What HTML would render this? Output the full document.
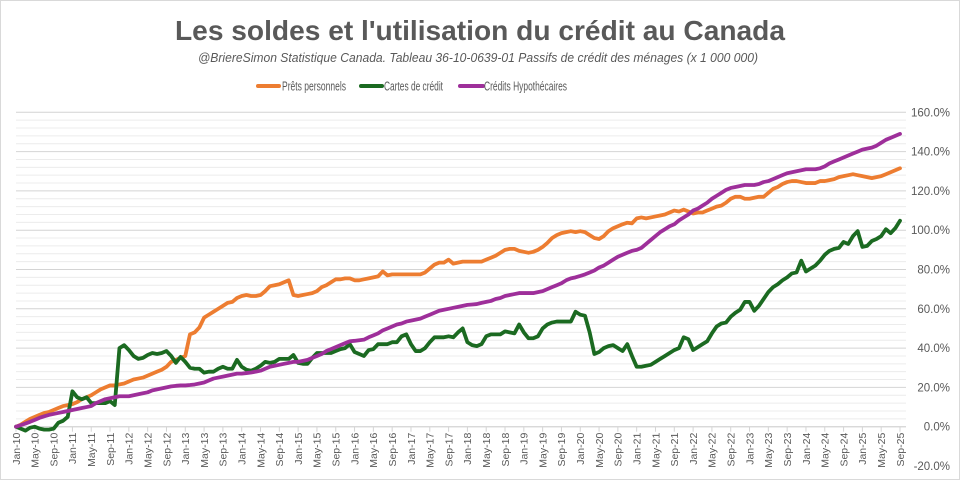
<!DOCTYPE html>
<html><head><meta charset="utf-8"><style>
html,body{margin:0;padding:0;background:#fff;}
svg{display:block;font-family:"Liberation Sans",sans-serif;}
</style></head><body>
<svg id="chart" width="960" height="481" viewBox="0 0 960 481" xmlns="http://www.w3.org/2000/svg">
<rect x="0.5" y="0.5" width="959" height="479" fill="#fff" stroke="#d9d9d9"/>
<text x="480" y="40" text-anchor="middle" font-size="28" font-weight="bold" fill="#595959" textLength="610" lengthAdjust="spacingAndGlyphs">Les soldes et l'utilisation du crédit au Canada</text>
<text x="478" y="62" text-anchor="middle" font-size="12.5" font-style="italic" fill="#595959" textLength="560" lengthAdjust="spacingAndGlyphs">@BriereSimon Statistique Canada. Tableau 36-10-0639-01  Passifs de crédit des ménages  (x 1 000 000)</text>
<g id="legend"></g>
<g id="grid"></g>
<g id="yaxis"></g>
<g id="xaxis"></g>
<g id="series"></g>
</svg>
<script>
const yTicks = [-20,0,20,40,60,80,100,120,140,160];
const monthNames = ["Jan","Feb","Mar","Apr","May","Jun","Jul","Aug","Sep","Oct","Nov","Dec"];
const startYear = 2010;
const personalLoans = [
0,1,2.5,4,5,6,7,7.5,8.5,9.5,10.5,11,
11.5,12.5,14,15,16,17.5,19,20,21,21,21.5,22,
23,24,24.5,25,26,27,28,29,30.5,33,34,35,
36,47,48,50.5,55.5,57,58.5,60,61.5,63,63.5,65.5,
66.5,67,66.5,66.5,67,69,71.5,72,72.5,73.5,74.5,67,
66.5,67,67.5,68,69,71,72,73.5,75,75,75.5,75.5,
74.5,74.5,75,75.5,76,76.5,79,77,77.5,77.5,77.5,77.5,
77.5,77.5,77.5,78.5,80.5,82.5,83.5,83.5,85,83,83.5,84,
84,84,84,84,85,86,87,88.5,90,90.5,90.5,89.5,
89,88.5,89,90,91.5,93.5,96,97.5,98.5,99,99.5,99,
99.5,99,97.5,96,95.5,97,99.5,101,102,103,103.8,103.5,
106,106.5,106,106.5,107,107.5,108,109,110,109.5,110.5,109.5,
108.5,109,109,110,111,112,112.5,114,116,117,117,116,
116,116.5,117,117,119,121,122,123.5,124.5,125,125,124.5,
124,124,124,125,125,125.5,126,127,127.5,128,128.5,128,
127.5,127,126.5,127,127.5,128.5,129.5,130.5,131.5];
const creditCards = [
0,-1,-2,-0.5,0,-1,-1.5,-1.5,-1,2,3,5,
18,15,14,15,12,12,12,12,13,11,40,41.5,
39,36,34.5,35,36.5,37.5,37,37.5,38.5,36,32.5,35.5,
33,30,29.5,29.5,27.5,28,28,29.5,30.5,29.5,29.5,34,
30.5,29,28.5,29.5,31,33,32.5,33,34.5,34.5,34.5,36.5,
32.5,32,32,35,37.5,37.5,37.5,37.5,38.5,39.5,40,42,
38,37,36,39,39.5,42,42,42,43,43,46,47,
42,38.5,38.5,40,43,45.5,45.5,45.5,46,45.5,48,50,
43,41.5,41,42,46,47,47,47,48.5,48,47.5,52,
48,45,45,46,50,52,53,53.5,53.5,53.5,53.5,58.5,
57,56.5,48,37,38,40,41,41.5,40,38.5,42,36,
30.5,30.5,31,31.5,33,34.5,36,37.5,39,40,45.5,44.5,
39,40.5,42,43.5,47.5,51,52.5,53,56,58,59.5,63.5,
63.5,59,61.5,65,68.5,71,72.5,74.5,76,78,78.5,84.5,
79,80.5,82,84.5,87.5,89.5,90.5,91,94,93,97,99.5,
91.5,92,94.5,95.5,97,100.5,98.5,101,104.8];
const mortgages = [
0,0.8,1.6,2.5,3.5,4.5,5.3,6,6.5,7,7.5,8,
8.5,9,9.5,10,10.5,12,13,14,14.5,15,15.5,15.5,
15.5,16,16.5,17,17.5,18.5,19,19.5,20,20.5,20.8,21,
21,21.2,21.5,22,22.5,23.5,24.5,25,25.5,26,26.5,27,
27,27.3,27.6,28,28.5,29.5,30.5,31,31.5,32,32.5,33,
33,33.5,34,35,36,37,38.5,39.5,40.5,41.5,42.5,43.5,
43.7,44,44.3,45.5,46.5,47.5,49,50,51,52,52.5,53.5,
54,54.5,55,56,57,58,59,59.5,60,60.5,61,61.5,
62,62.2,62.4,63,63.5,64,65,65.5,66.5,67,67.5,68,
68,68,68,68.5,69,70,71,72,73,74.5,75.5,76,
76.7,77.5,78.5,79.5,81,82,83.5,85,86.5,87.5,88.5,89.5,
90,91,93,95,97,99,100.5,102,103,105,106.5,108,
110,111,112.5,114,116,117.5,119,120.5,121.5,122,122.5,123,
123,123,123.5,124.5,125,126,127,128,129,129.5,130,130.5,
131,131,131,131.5,132.5,134,135,136,137,138,139,140,
141,141.5,142,143,144.5,146,147,148,149];
const seriesNames = ["Prêts personnels","Cartes de crédit","Crédits Hypothécaires"];
const seriesColors = ["#ED7D31","#1B6A21","#9E2F9A"];
const seriesData = [personalLoans, creditCards, mortgages];

const NS = "http://www.w3.org/2000/svg";
const X0 = 16, X1 = 900, Y0 = 426.7, PX_PER_PCT = 1.965;
const n = personalLoans.length;
function xScale(i){ return X0 + i*(X1-X0)/(n-1); }
function yScale(v){ return Y0 - v*PX_PER_PCT; }
function mk(tag, attrs, parent){ const e=document.createElementNS(NS,tag); for(const k in attrs) e.setAttribute(k,attrs[k]); parent.appendChild(e); return e; }

const grid = document.getElementById('grid');
for(let v=0; v<=160; v+=4){
  const major = v%20===0;
  const ln = mk('line',{x1:X0,x2:X1+6,y1:yScale(v),y2:yScale(v),stroke:major?'#d4d4d4':'#ececec','stroke-width':1},grid);
  
  
}
const yaxis = document.getElementById('yaxis');
yTicks.forEach(v=>{
  const t = mk('text',{x:950,y:yScale(v)+4,'text-anchor':'end','font-size':11.5,fill:'#595959'},yaxis);
  t.textContent = v.toFixed(1)+'%';
  
  
});
const xaxis = document.getElementById('xaxis');
const ax = mk('line',{x1:X0,x2:X1+6,y1:Y0,y2:Y0,stroke:'#d4d4d4','stroke-width':1},xaxis);


for(let i=0;i<n;i+=4){
  const x = xScale(i);
  const tk = mk('line',{x1:x,x2:x,y1:Y0,y2:Y0+5,stroke:'#d4d4d4'},xaxis);
  
  
  const lab = monthNames[i%12]+'-'+String((startYear+Math.floor(i/12))%100).padStart(2,'0');
  const t = mk('text',{x:0,y:0,'text-anchor':'end','font-size':10.5,fill:'#595959',transform:`translate(${x+3.8},${Y0+6}) rotate(-90)`},xaxis);
  t.textContent = lab;
  
  
}
const sg = document.getElementById('series');
seriesData.forEach((arr,s)=>{
  const d = arr.map((v,i)=>(i?'L':'M')+xScale(i).toFixed(2)+','+yScale(v).toFixed(2)).join(' ');
  const p = mk('path',{d:d,fill:'none',stroke:seriesColors[s],'stroke-width':3.8,'stroke-linejoin':'round','stroke-linecap':'round'},sg);
  
  
});
const legend = document.getElementById('legend');
const legLine = [[258,279],[361,382],[460,483]];
const legX = [282,384,484], legW=[64,59,83];
seriesNames.forEach((nm,s)=>{
  const g = mk('g',{},legend);
  
  
  mk('line',{x1:legLine[s][0],x2:legLine[s][1],y1:86,y2:86,stroke:seriesColors[s],'stroke-width':4,'stroke-linecap':'round'},g);
  const t = mk('text',{x:legX[s],y:90.5,'font-size':12.5,fill:'#595959',textLength:legW[s],lengthAdjust:'spacingAndGlyphs'},g);
  t.textContent = nm;
});
</script>
</body></html>
